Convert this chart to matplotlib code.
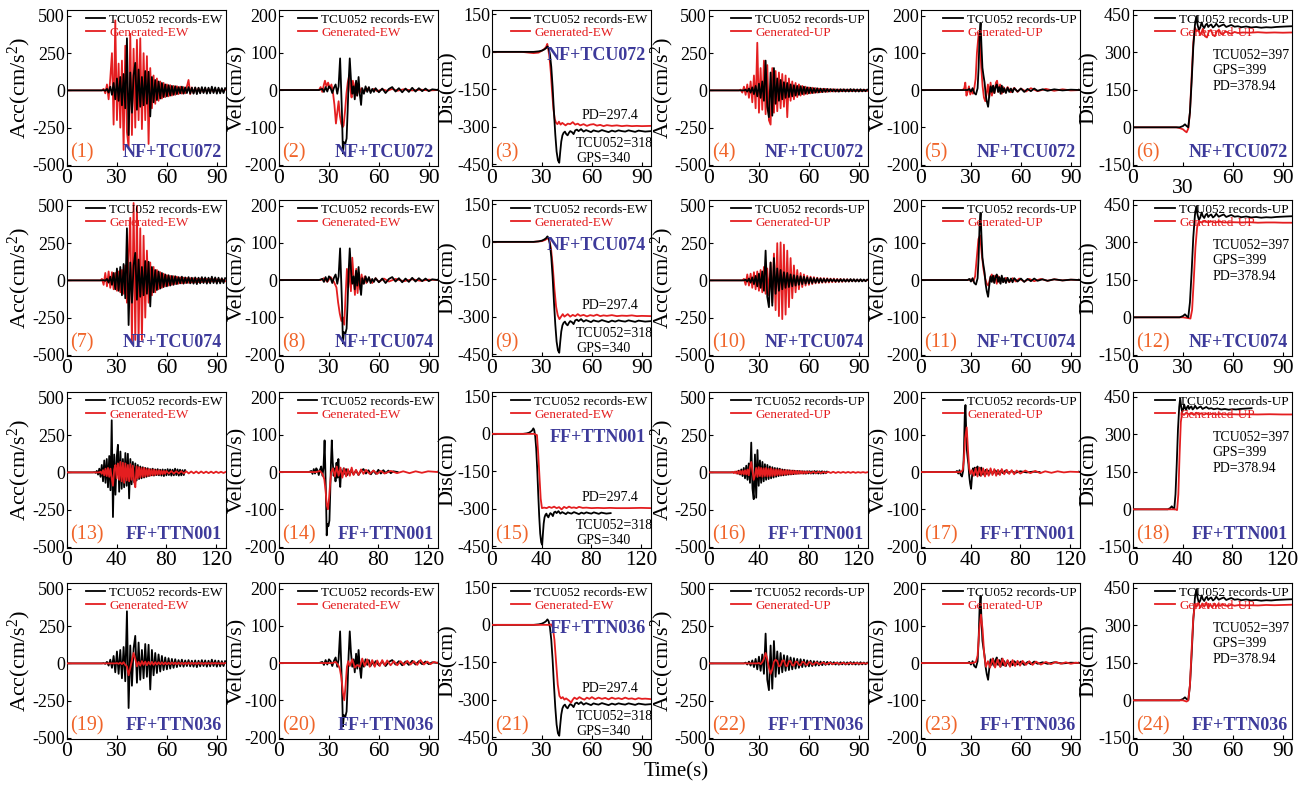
import numpy as np
import matplotlib
matplotlib.use('Agg')
import matplotlib.pyplot as plt
from matplotlib.transforms import ScaledTranslation

plt.rcParams['font.family'] = ['Liberation Serif', 'DejaVu Serif']
plt.rcParams['mathtext.fontset'] = 'custom'
plt.rcParams['mathtext.rm'] = 'Liberation Serif'
plt.rcParams['mathtext.it'] = 'Liberation Serif:italic'
plt.rcParams['axes.unicode_minus'] = False

# ---------------- data ----------------
stations = ['NF+TCU072', 'NF+TCU074', 'FF+TTN001', 'FF+TTN036']
ylabels = ['Acc(cm/s$^2$)', 'Vel(cm/s)', 'Dis(cm)', 'Acc(cm/s$^2$)', 'Vel(cm/s)', 'Dis(cm)']
comps = ['EW', 'EW', 'EW', 'UP', 'UP', 'UP']
yticks_acc = [-500, -250, 0, 250, 500]
yticks_vel = [-200, -100, 0, 100, 200]
yticks_dis_ew = [-450, -300, -150, 0, 150]
yticks_dis_up = [-150, 0, 150, 300, 450]
xticks_short = [0, 30, 60, 90]
xticks_long = [0, 40, 80, 120]
ew_notes = ['PD=297.4', 'TCU052=318', 'GPS=340']
up_notes = ['TCU052=397', 'GPS=399', 'PD=378.94']

# acceleration sample times (s)
t_acc = np.concatenate([[0], np.arange(18, 96)])
t_acc_long = np.concatenate([[0], np.arange(18, 80), np.arange(80, 129, 2)])

# recorded TCU052 acceleration, values at t = 18..95
rec_acc_ew = [0, 0, 0, 0, 2, -3,
              10, -15, 25, -30, 50, -60, 80, -70, 90, -100, 110, -120, 350, -300, 120, -150, 100, 185, -130, 140,
              -110, 90, -100, 130, -90, 125, -175, 90, -80, 70, -65, 60, -55, 50, -45, 40, -40, 35, -35, 30, -30, 28,
              -25, 22, -20, 25, -22, 20, -18, 22, -20, 18, -22, 20, -25, 18, -20, 22, -18, 20, -22, 18, -20, 25, -18,
              20, -22, 18, -20, 15, -18, 15]
rec_acc_up = [0, 0, 0, 0,
              5, -8, 12, -15, 20, -25, 30, -40, 45, -50, 60, -70, 200, -110, -180, 120, -170, 150, -90, 80, -70, 70,
              -60, 55, -50, 50, -45, 40, -40, 35, -35, 30, -30, 28, -25, 25, -22, 20, -20, 18, -18, 15, -15, 14, -14,
              12, -12, 11, -10,
              10, -8, 9, -7, 8, -8, 7, -9, 8, -7, 8, -8, 7, -8, 9, -7, 8, -8, 7, -8, 8, -7, 6, -6, 5]

# generated acceleration
gen_acc_ew_1 = [0, 0, 0, 0,
                10, -20, 40, -60, 80, 250, -230, 470, -200, 180, -250, 200, -400, 300, -280, -380, 380, -300, 280,
                -250, 340, -200, 350, -260, 250, -200, 230, -360, 150, -120, 100, -90, 80, -70, 60, -55, 50, -45, 40,
                -40, 35, -35, 30, -30,
                28, -25, 25, -22, 22, -20, 25, 70, -25, 20, -18, 18, -15, 15, -15, 14, -12, 12, -12, 10, -10, 10, -10,
                8, -8, 8, -8, 6, -6, 5]
gen_acc_ew_2 = [0, 0, 0,
                10, -30, 50, -40, 60, -50, 55, -60, 50, -70, 60, -80, 70, -90, 100, -150, 150, 420, -420, 520, -400,
                500, -420, 350, -400, 300, -250, 200, -150, 120, -100, 90, -80, 70, -60, 55, -50, 45, -40, 35, -35, 30,
                -30, 28, -25,
                25, -22, 20, -20, 18, -18, 16, -16, 15, -15, 14, -14, 12, -12, 12, -12, 10, -10, 10, -10, 10, -8, 8,
                -8, 8, -6, 6, -6, 5, -5]
gen_acc_ew_3 = [0, 0, 0, 0, 0, 0, 0, 0, 0,
                5, -10, 15, -20, 25, -25, 30, -30, 25, -40, -90, 20, 50, -40, 60, -50, 70, -60, 65, -70, 60, -55, 50,
                -60, 55, -50, 45, -60, -100, 40, -40, 35, -35, 30, -30, 30, -28, 25, -25, 22, -22, 20, -20, 18, -18,
                15, -15, 14, -14, 12, -12, 10, -10,
                10, -8, 9, -8, 8, -7, 8, -7, 7, -7, 6, -6, 6, -6, 6, -5, 5, -5, 5, -5, 5, -4, 4, -4, 4]
gen_acc_ew_4 = [0, 0, 0, 0, 0, 0, 0, 0, 0, 0, 0, 0,
                2, -3, 5, -5, 8, -10, -20, -80, -30, 20, 70, 30, -20, 10, -15, 15, -10, 12, -12, 10, -8, 10, -10, 8,
                -8, 8, -6, 7, -7, 6, -6, 5, -5, 6, -5, 5,
                -5, 5, -4, 4, -5, 4, -4, 5, -4, 4, -4, 3, -4, 4, -3, 3, -4, 3, -3, 3, -3, 3, -2, 3, -2, 2, -2, 2, -2, 2]
gen_acc_up_1 = [0, 5, -15, 25, -30, 40, -50, 60, -80, 100, -120, 320, -150, 150, -130, 200, -160, 170, -200, -230,
                150, -150, 130, -140, 120, -120, 110, -110, 100, -180, 80, -70, 60, -60, 50, -45, 40, -35, 30, -30, 25,
                -25, 20, -20, 18, -18, 15, -15,
                12, -12, 10, -10, 10, -10, 8, -8, 8, -8, 7, -7, 6, -6, 6, -6, 5, -5, 5, -5, 5, -5, 4, -4, 4, -4, 4, -4,
                3, -3]
gen_acc_up_2 = [0, 0, 0,
                10, -30, 40, -35, 45, -50, 55, -60, 60, -70, 70, -80, 90, -90, 80, -100, 120, -150, 180, -200, 250,
                -240, 255, -260, 240, -230, 200, -180, 150, -120, 100, -80, 70, -60, 50, -45, 40, -35, 30, -30, 25,
                -25, 22, -20, 18,
                -18, 16, -16, 15, -15, 14, -14, 12, -12, 12, -12, 10, -10, 10, -10, 8, -8, 8, -8, 6, -6, 6, -6, 5, -5,
                4, -4, 3, -3, 2]
gen_acc_up_3 = [0, 3, -5, 6, -8, 8, -10, 10, -12, 12, -14, 15, -15, 20, -20, 40, 70, 10, -50, -20, 30, -30, 35, -25,
                30, -30, 28, -25, 30, -28, 25, -25, 28, -25, 22, -22, 20, -20, 20, -18, 18, -18, 15, -15, 15, -14, 14,
                -13, 12, -12, 12, -10, 10, -10, 9, -9, 8, -8, 7, -7, 6, -6,
                6, -5, 5, -5, 5, -5, 4, -4, 4, -4, 4, -4, 3, -3, 3, -3, 3, -3, 3, -3, 2, -2, 2, -2, 2]
gen_acc_up_4 = [0, 0, 0, 0, 0, 0, 0, 0, 0, 0, 0, 0,
                3, -5, 8, 30, 70, 30, -30, -70, -40, 10, 25, 15, -20, -15, 18, 20, -15, -18, 15, 15, -12, -15, 12, 10,
                -10, -12, 10, 8, -8, -10, 8, 6, -7, -6, 6, 5,
                -5, -4, 5, 4, -4, -4, 4, 3, -4, -3, 3, 3, -3, -3, 3, 2, -3, -2, 2, 2, -2, -2, 2, 2, -2, -1, 1, 1, -1, 0]

# recorded TCU052 velocity
rec_vel_ew_t = [0, 24, 26, 27, 28, 29, 30, 31, 32, 33, 34, 35, 35.8, 36.7, 37.2, 37.8, 38.4, 39.0, 39.8, 40.6,
                41.2, 41.8, 42.5, 43.2, 44.0, 44.8, 45.5, 46.3, 47.0, 47.8, 48.5, 49.3, 50.0, 51, 52, 53, 54, 55, 56,
                57, 58, 60, 62, 64, 66, 68, 70, 72, 74, 76, 78, 80, 82, 84, 86, 88, 90, 92, 95.5]
rec_vel_ew = [0, 0, 3, -5, 8, -4, 10, 5, -8, 6, 15, -10, 10, 85, 20, -60, -170, -140, -145, -130,
              -60, 20, 85, 30, -10, 10, -25, 25, -15, 35, -10, -40, 5, -10, 10, -5, 8, -8, 3, -5,
              5, -6, 4, -8, 3, 8, -4, 5, -6, 4, -5, 6, -4, 5, -3, 4, -3, 2, 0]
rec_vel_up_t = [0, 28, 29, 30, 31, 32, 33, 34, 34.6, 35.2, 35.8, 36.3, 36.9, 37.5, 38.2, 38.8, 39.5, 40.3, 41.0,
                41.8, 42.5, 43.3, 44.0, 44.8, 45.5, 46.3, 47.0, 47.8, 48.5, 49.3, 50.0, 51, 52, 53, 54, 55, 56, 58,
                60, 62, 64, 66, 68, 70, 73, 76, 80, 85, 90, 95.5]
rec_vel_up = [0, 0, 3, -4, 5, -8, -12, 5, 60, 150, 180, 120, 60, 40, 20, -10, -30, -45, -15, 10,
              -5, 12, -8, 8, 15, -5, 8, -10, 12, -6, 5, -8, 6, -5, 4, -6, 5, -4, 4, -5,
              3, -3, 4, -2, 2, -2, 2, -1, 1, 0]

# generated velocity
gen_vel_ew_1_t = [0, 24, 25, 26, 27, 27.6, 28.5, 29.5, 30.5, 31.5, 32.5, 33.3, 34.2, 35.0, 35.8, 36.6, 37.4, 38.2,
                  38.8, 39.6, 40.5, 41.3, 42.2, 42.9, 43.6, 44.4, 45.2, 46.0, 46.8, 47.6, 48.4, 49.5, 51, 53, 55,
                  57, 59, 62, 65, 68, 71, 75, 80, 85, 90, 95.5]
gen_vel_ew_1 = [0, 0, 8, -5, 15, 25, 10, 20, 5, 15, -10, -40, -90, -60, -30, -70, -90, -100, -95, -60,
                -10, 20, 40, 0, -20, 25, -10, 20, -15, 10, -8, 5, -5, 4, -3, 3, -3, 2, -2, 3, -2, 2, -1, 1, -1, 0]
gen_vel_ew_2_t = [0, 25, 27, 29, 31, 33, 34.5, 35.5, 36.5, 37.5, 38.3, 39.2, 40.0, 40.8, 41.6, 42.4, 43.2, 44.0,
                  44.8, 45.6, 46.4, 47.2, 48.0, 48.8, 49.6, 50.5, 51.5, 52.5, 54, 56, 58, 60, 63, 66, 70, 75, 80,
                  85, 90, 95.5]
gen_vel_ew_2 = [0, 0, 5, -5, 8, -5, -20, -60, -90, -110, -100, -120, -40, 30, -20, 40, -30, 60, 10, -40,
                30, -35, 20, -25, 15, -10, 10, -8, 6, -8, 5, -5, 4, -4, 3, -3, 2, -2, 1, 0]
gen_vel_ew_3_t = [0, 30, 33, 35, 36.5, 37.5, 38.5, 39.4, 40.3, 41.2, 42.1, 43.5, 45, 46.5, 48, 49.5, 51, 52.5, 54,
                  55.5, 57, 58.5, 60, 62, 64, 66, 68, 70, 73, 76, 79, 82, 85, 90, 95, 100, 105, 110, 115, 120, 128]
gen_vel_ew_3 = [0, 0, 3, -5, -20, -50, -90, -100, -70, -30, 0, 10, -12, 15, -10, 12, -15, 10, -12, 8,
                -10, 12, -8, 6, -8, 7, -5, 6, -5, 4, -5, 3, -4, 3, -3, 2, -3, 2, -2, 2, 0]
gen_vel_ew_4_t = [0, 32, 34, 35.5, 36.5, 37.5, 38.4, 39.2, 40.0, 40.8, 41.6, 42.5, 44, 45.5, 47, 48.5, 50, 51.5,
                  53, 54.5, 56, 57.5, 59, 60.5, 62, 63.5, 65, 67, 69, 71, 73, 75, 77, 79, 81, 83, 85, 87, 89, 91,
                  93, 95.5]
gen_vel_ew_4 = [0, 0, 3, -5, -15, -40, -80, -100, -60, -10, 5, -8, 10, -12, -5, -10, 12, -8, 10, -10,
                8, -10, 7, -8, 8, -6, 7, -6, 5, -6, 5, -5, 6, -4, 5, -5, 8, -4, 4, -3, 3, 0]
gen_vel_up_1_t = [0, 25, 26, 26.6, 27.3, 28.0, 28.8, 29.6, 30.4, 31.2, 32.0, 32.8, 33.6, 34.6, 35.4, 36.2, 37.0,
                  37.8, 38.6, 39.4, 40.2, 41.0, 41.8, 42.6, 43.4, 44.2, 45.0, 45.7, 46.5, 47.5, 48.5, 49.5, 50.5,
                  52, 54, 56, 58, 60, 63, 66, 70, 75, 80, 85, 90, 95.5]
gen_vel_up_1 = [0, 0, 5, 20, -15, -5, 10, -12, 0, -10, 5, 30, 100, 150, 130, 60, 10, -20, -30, -10,
                15, -20, 20, -15, 10, -8, 20, 25, -5, 15, -10, 8, -5, 8, -6, 6, -5, 4, -4, 5, -3, 3, -2, 2, -1, 0]
gen_vel_up_2_t = [0, 28, 30, 31.5, 32.5, 33.5, 34.5, 35.5, 36.5, 37.5, 38.5, 39.5, 40.5, 41.5, 42.5, 43.5, 44.5,
                  45.5, 46.5, 47.5, 48.5, 49.5, 51, 53, 55, 57, 59, 62, 65, 68, 72, 76, 80, 85, 90, 95.5]
gen_vel_up_2 = [0, 0, 2, -3, 10, 60, 110, 120, 70, 30, 5, -10, -15, 5, 15, -5, 12, -10, 10, -8,
                8, -5, 6, -6, 5, -4, 4, -4, 3, -3, 3, -2, 2, -1, 1, 0]
gen_vel_up_3_t = [0, 32, 33.5, 34.5, 35.5, 36.8, 37.8, 38.8, 39.8, 41, 42.5, 44, 45.5, 47, 48.5, 50, 51.5, 53,
                  54.5, 56, 57.5, 59, 60.5, 62, 63.5, 65, 67, 69, 71, 73, 75, 77, 80, 84, 88, 92, 96, 100, 105, 110,
                  115, 120, 128]
gen_vel_up_3 = [0, 0, 5, 30, 90, 120, 60, 10, -5, 5, -10, 10, -12, 12, -10, 10, -12, 8, -10, 10,
                -8, 8, -10, 6, -8, 8, -6, 6, -5, 5, -6, 4, -4, 4, -3, 3, -3, 2, -2, 2, -1, 1, 0]
gen_vel_up_4_t = [0, 31, 33, 34, 35, 36, 37, 38, 39, 40.2, 41.5, 43, 44.5, 46, 47.5, 49, 50.5, 52, 53.5, 55, 56.5,
                  58, 59.5, 61, 63, 65, 67, 69, 72, 75, 78, 81, 84, 87, 90, 93, 95.5]
gen_vel_up_4 = [0, 0, 3, 20, 90, 130, 90, 20, -10, 5, -12, 12, -12, 10, -10, 12, -8, 8, -10, 8,
                -8, 6, -7, 6, -5, 5, -5, 4, -4, 3, -3, 3, -2, 2, -2, 1, 0]

# recorded TCU052 displacement
rec_dis_ew_t = [0, 25, 28, 30, 31.5, 32.5, 33.3, 34.0, 34.8, 35.6, 36.4, 37.2, 38.0, 38.8, 39.6, 40.4, 41.0, 41.6,
                42.3, 43.0, 43.8, 44.6, 45.4, 46.2, 47.0, 48, 49, 50, 51, 52, 53.5, 55, 56.5, 58, 59.5, 61, 62.5,
                64, 66, 68, 70, 72, 74, 76, 78, 80, 82, 84, 86, 88, 90, 92, 95.5]
rec_dis_ew = [0, 0, 2, 5, 10, 15, 22, 15, -10, -60, -140, -240, -330, -400, -435, -445, -400, -360, -335, -325,
              -320, -330, -335, -325, -318, -322, -330, -315, -312, -318, -310, -320, -314, -318, -322, -315, -318,
              -320, -314, -318, -322, -316, -320, -315, -318, -320, -315, -318, -321, -316, -318, -320, -318]
rec_dis_up_t = [0, 28, 30, 31.2, 32.2, 33.2, 34.2, 35.2, 36.2, 37.2, 38.0, 38.8, 39.6, 40.4, 41.2, 42.0, 42.8, 43.6,
                44.4, 45.2, 46.0, 47.0, 48.0, 49.0, 50.0, 51.5, 53, 54.5, 56, 57.5, 59, 61, 63, 65, 68, 71, 74, 77,
                80, 83, 86, 89, 92, 95.5]
rec_dis_up = [0, 0, 5, 12, 5, 0, 60, 180, 320, 410, 445, 410, 390, 400, 420, 405, 398, 410, 415, 402,
              408, 412, 400, 405, 415, 403, 408, 412, 402, 406, 410, 403, 405, 401, 404, 400, 402, 399, 401, 400,
              402, 403, 404, 405]

# generated displacement
gen_dis_ew_1_t = [0, 18, 22, 25, 28, 30, 31.5, 32.5, 33.2, 33.8, 34.5, 35.3, 36.1, 36.9, 37.7, 38.5, 39.3, 40.2,
                  41.2, 42.2, 43.2, 44.2, 45.5, 47, 48.5, 50, 51.5, 53, 55, 57, 59, 61, 63, 65, 67, 69, 72, 75, 78,
                  81, 84, 87, 90, 95.5]
gen_dis_ew_1 = [0, 0, -3, -5, -3, 5, 12, 20, 32, 10, -20, -80, -160, -230, -270, -285, -290, -280, -292, -285,
                -290, -295, -288, -290, -282, -292, -288, -295, -290, -297, -292, -290, -296, -293, -298, -294,
                -297, -295, -298, -296, -298, -297, -298, -297]
gen_dis_ew_2_t = [0, 25, 30, 32, 33.5, 34.5, 35.5, 36.5, 37.5, 38.5, 39.5, 40.5, 41.5, 42.5, 43.5, 44.5, 45.5, 47,
                  48.5, 50, 51.5, 53, 55, 57, 59, 61, 63, 65, 67, 69, 72, 75, 78, 81, 84, 87, 90, 95.5]
gen_dis_ew_2 = [0, 0, 3, 8, 15, 5, -30, -100, -190, -260, -295, -310, -300, -290, -300, -295, -290, -300, -293,
                -298, -290, -297, -293, -299, -294, -297, -292, -298, -295, -297, -294, -298, -296, -297, -295,
                -298, -297, -298]
gen_dis_ew_3_t = [0, 34, 36.2, 37.2, 38.2, 39.2, 40.2, 42, 44, 46, 48, 50, 52, 54, 56, 58, 60, 62, 64, 66, 68, 70,
                  73, 76, 80, 85, 90, 95, 100, 110, 120, 128]
gen_dis_ew_3 = [0, 0, -5, -80, -170, -260, -298, -296, -298, -293, -297, -292, -298, -294, -303, -293, -298, -292,
                -297, -295, -298, -293, -297, -296, -298, -297, -298, -297, -298, -298, -297, -298]
gen_dis_ew_4_t = [0, 34, 35.5, 36.5, 37.5, 38.5, 39.5, 40.5, 41.5, 42.5, 43.5, 44.5, 45.5, 46.5, 47.5, 48.5, 49.5,
                  51, 52.5, 54, 55.5, 57, 58.5, 60, 62, 64, 66, 68, 70, 72, 74, 76, 78, 80, 82, 84, 86, 88, 90, 92,
                  95.5]
gen_dis_ew_4 = [0, 0, 2, -10, -60, -150, -240, -285, -295, -290, -300, -295, -300, -305, -312, -300, -292, -298,
                -290, -296, -300, -292, -297, -290, -298, -292, -297, -293, -299, -292, -297, -294, -298, -292,
                -297, -295, -299, -294, -297, -296, -298]
gen_dis_up_1_t = [0, 26, 28, 30, 31.2, 32.2, 33.2, 34.2, 35.2, 36.2, 37.2, 38.2, 39.2, 40.5, 42.0, 43.2, 44.4,
                  45.6, 46.8, 48.0, 49.2, 50.4, 51.6, 52.8, 54, 55.5, 57, 59, 61, 63, 66, 70, 75, 80, 85, 90, 95.5]
gen_dis_up_1 = [0, 0, -3, -8, -15, -20, -5, 60, 200, 340, 400, 385, 390, 370, 395, 365, 360, 385, 390, 370,
                365, 385, 390, 375, 372, 385, 380, 375, 382, 378, 380, 379, 381, 379, 380, 379, 380]
gen_dis_up_2_t = [0, 30, 33, 34.5, 35.5, 36.5, 37.5, 38.5, 39.5, 41, 43, 45, 47, 49, 52, 55, 60, 65, 70, 75, 80,
                  85, 90, 95.5]
gen_dis_up_2 = [0, 0, -3, -5, 30, 150, 280, 360, 385, 380, 387, 380, 384, 380, 383, 380, 381, 380, 381, 379,
                380, 380, 379, 379]
gen_dis_up_3_t = [0, 34, 35.5, 36.5, 37.5, 38.5, 39.5, 41, 43, 45, 47, 49, 51, 53, 55, 57, 59, 61, 64, 67, 70, 75,
                  80, 85, 90, 100, 110, 120, 128]
gen_dis_up_3 = [0, 0, -3, 60, 220, 350, 385, 378, 388, 380, 386, 378, 387, 380, 385, 379, 384, 380, 383, 380,
                382, 380, 381, 380, 381, 380, 381, 380, 380]
gen_dis_up_4_t = [0, 30, 32.2, 33.2, 34.2, 35.2, 36.2, 37.2, 38.2, 39.2, 40.4, 41.6, 42.8, 44.0, 45.2, 46.4, 47.6,
                  48.8, 50.0, 51.2, 52.4, 53.6, 55, 57, 59, 61, 64, 67, 70, 75, 80, 85, 90, 95.5]
gen_dis_up_4 = [0, 0, -5, 0, 60, 200, 330, 385, 375, 390, 372, 388, 375, 392, 370, 385, 372, 388, 375, 385,
                378, 386, 380, 378, 383, 379, 382, 380, 381, 380, 382, 381, 382, 383]

# ---------------- assemble series ----------------
def acc_series(vals, long=False):
    t = t_acc_long if long else t_acc
    return t, np.concatenate([[0], vals])

records = [
    (t_acc, np.concatenate([[0], rec_acc_ew])),
    (rec_vel_ew_t, rec_vel_ew),
    (rec_dis_ew_t, rec_dis_ew),
    (t_acc, np.concatenate([[0], rec_acc_up])),
    (rec_vel_up_t, rec_vel_up),
    (rec_dis_up_t, rec_dis_up),
]
generated = [
    [acc_series(gen_acc_ew_1), (gen_vel_ew_1_t, gen_vel_ew_1), (gen_dis_ew_1_t, gen_dis_ew_1),
     acc_series(gen_acc_up_1), (gen_vel_up_1_t, gen_vel_up_1), (gen_dis_up_1_t, gen_dis_up_1)],
    [acc_series(gen_acc_ew_2), (gen_vel_ew_2_t, gen_vel_ew_2), (gen_dis_ew_2_t, gen_dis_ew_2),
     acc_series(gen_acc_up_2), (gen_vel_up_2_t, gen_vel_up_2), (gen_dis_up_2_t, gen_dis_up_2)],
    [acc_series(gen_acc_ew_3, True), (gen_vel_ew_3_t, gen_vel_ew_3), (gen_dis_ew_3_t, gen_dis_ew_3),
     acc_series(gen_acc_up_3, True), (gen_vel_up_3_t, gen_vel_up_3), (gen_dis_up_3_t, gen_dis_up_3)],
    [acc_series(gen_acc_ew_4), (gen_vel_ew_4_t, gen_vel_ew_4), (gen_dis_ew_4_t, gen_dis_ew_4),
     acc_series(gen_acc_up_4), (gen_vel_up_4_t, gen_vel_up_4), (gen_dis_up_4_t, gen_dis_up_4)],
]
ylims = [(-508, 540), (-204, 215), (-458, 168), (-508, 540), (-204, 215), (-155, 470)]
yticks = [yticks_acc, yticks_vel, yticks_dis_ew, yticks_acc, yticks_vel, yticks_dis_up]
ylabel_x = [-0.215, -0.2, -0.215, -0.205, -0.2, -0.215]

# ---------------- figure ----------------
W, H = 1308, 785
fig = plt.figure(figsize=(W / 100, H / 100), dpi=100)
col_left = [67, 279, 492, 709, 921, 1133]
row_top = [10, 200, 392, 583]
aw, ah = 159, 156

RED = '#E41E20'
ORANGE = '#F0652A'
BLUE = '#3D3A9A'

for r in range(4):
    for c in range(6):
        ax = fig.add_axes([col_left[c] / W, 1 - (row_top[r] + ah) / H, aw / W, ah / H])
        tr, vr = records[c]
        tg, vg = generated[r][c]
        zb, zr = (3, 2) if r < 2 else (2, 3)
        ax.plot(tr, vr, color='black', lw=1.3, zorder=zb, label='TCU052 records-' + comps[c])
        ax.plot(tg, vg, color=RED, lw=1.3, zorder=zr, label='Generated-' + comps[c])
        if r == 2:
            ax.set_xlim(0, 128)
            ax.set_xticks(xticks_long)
        else:
            ax.set_xlim(0, 95.5)
            ax.set_xticks(xticks_short)
        ax.set_ylim(*ylims[c])
        ax.set_yticks(yticks[c])
        ax.tick_params(axis='y', labelsize=13, direction='in', length=3, pad=1.5)
        ax.tick_params(axis='x', labelsize=15.5, direction='in', length=3, pad=2.5)
        ax.set_ylabel(ylabels[c], fontsize=16)
        ax.yaxis.set_label_coords(ylabel_x[c], 0.5)
        ax.legend(loc='upper right', fontsize=9.5, frameon=False, handlelength=1.5,
                  handletextpad=0.3, labelspacing=0.1, borderpad=0.15, borderaxespad=0.1,
                  labelcolor=['black', RED])
        n = r * 6 + c + 1
        ax.text(0.02, 0.02, '(%d)' % n, transform=ax.transAxes, fontsize=14.5,
                color=ORANGE, ha='left', va='bottom')
        if c == 2:
            ax.text(0.97, 0.71, stations[r], transform=ax.transAxes, fontsize=13, fontweight='bold',
                    color=BLUE, ha='right', va='center')
            ax.text(0.56, 0.325, ew_notes[0], transform=ax.transAxes, fontsize=10, ha='left', va='center')
            ax.text(0.53, 0.145, ew_notes[1], transform=ax.transAxes, fontsize=10, ha='left', va='center')
            ax.text(0.53, 0.05, ew_notes[2], transform=ax.transAxes, fontsize=10, ha='left', va='center')
        else:
            ax.text(0.975, 0.03, stations[r], transform=ax.transAxes, fontsize=13, fontweight='bold',
                    color=BLUE, ha='right', va='bottom')
        if c == 5:
            ax.text(0.5, 0.71, up_notes[0], transform=ax.transAxes, fontsize=10, ha='left', va='center')
            ax.text(0.5, 0.61, up_notes[1], transform=ax.transAxes, fontsize=10, ha='left', va='center')
            ax.text(0.5, 0.51, up_notes[2], transform=ax.transAxes, fontsize=10, ha='left', va='center')
        if r == 0 and c == 5:
            lbl = ax.get_xticklabels()[1]
            lbl.set_transform(lbl.get_transform() + ScaledTranslation(0, -0.1, fig.dpi_scale_trans))

fig.text(676 / W, 1 - 772 / H, 'Time(s)', ha='center', va='center', fontsize=15)
fig.savefig('out.png', dpi=100)
